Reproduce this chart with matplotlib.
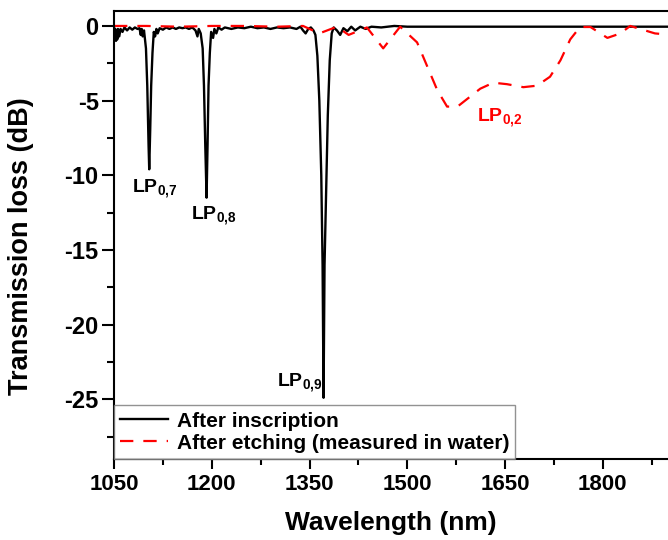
import matplotlib
matplotlib.use("Agg")
import matplotlib.pyplot as plt
from matplotlib.ticker import MultipleLocator

plt.rcParams['font.family'] = ['Liberation Sans', 'DejaVu Sans']
plt.rcParams['font.weight'] = 'bold'
plt.rcParams['axes.unicode_minus'] = False
plt.rcParams['mathtext.fontset'] = 'custom'
plt.rcParams['mathtext.rm'] = 'Liberation Sans'
plt.rcParams['mathtext.bf'] = 'Liberation Sans:bold'

# After inscription (black)
black_wl = [1050, 1051, 1052, 1053, 1054, 1055, 1056, 1058, 1060, 1063, 1066, 1070,
            1074, 1078, 1082, 1086, 1089, 1091, 1092.5, 1094, 1096, 1099, 1101, 1103,
            1104, 1105.5, 1107, 1109, 1111, 1113, 1115, 1117, 1120, 1125, 1130, 1135,
            1140, 1145, 1150, 1155, 1160, 1165, 1170, 1175, 1178, 1180, 1183, 1186,
            1188, 1190, 1192, 1193.5, 1195, 1197, 1199, 1202, 1204, 1207, 1210, 1215,
            1220, 1230, 1240, 1250, 1260, 1270, 1280, 1290, 1300, 1310, 1320, 1330,
            1336, 1340, 1344, 1348, 1352, 1356, 1359, 1362, 1365, 1368, 1370, 1371.5,
            1373, 1375, 1378, 1381, 1384, 1387, 1392, 1397, 1402, 1408, 1414, 1420,
            1428, 1436, 1445, 1460, 1480, 1500, 1550, 1600, 1650, 1700, 1750, 1800,
            1850, 1905]
black_db = [-0.1, -0.6, -0.2, -1.0, -0.3, -0.9, -0.2, -0.7, -0.2, -0.4, -0.1, -0.3,
            -0.1, -0.25, -0.1, -0.2, -0.15, -0.6, -0.2, -0.7, -0.3, -1.5, -4.0, -8.0,
            -9.6, -7.0, -4.0, -1.8, -0.4, -0.7, -0.2, -0.5, -0.15, -0.25, -0.1, -0.2,
            -0.1, -0.2, -0.1, -0.15, -0.1, -0.2, -0.1, -0.3, -0.7, -0.2, -0.5, -1.5,
            -4.0, -8.0, -11.5, -8.0, -4.0, -1.8, -0.4, -0.8, -0.2, -0.5, -0.1, -0.25,
            -0.1, -0.2, -0.1, -0.15, -0.05, -0.15, -0.1, -0.2, -0.1, -0.15, -0.1, -0.2,
            -0.05, -0.3, -0.5, -0.2, -0.1, -0.3, -0.6, -2.0, -5.0, -10.0, -16.0, -24.9,
            -16.0, -12.0, -6.0, -2.3, -0.5, -0.1, -0.3, -0.6, -0.15, -0.35, -0.05, -0.3,
            -0.05, -0.2, -0.05, -0.1, 0.0, -0.05, -0.05, -0.05, -0.05, -0.05, -0.05, -0.05,
            -0.05, -0.05]

# After etching, measured in water (red)
red_wl = [1050, 1100, 1150, 1200, 1250, 1300, 1340, 1365, 1392, 1410, 1438, 1463,
          1489, 1515, 1546, 1561, 1577, 1612, 1632, 1653, 1678, 1699, 1719, 1735,
          1750, 1765, 1781, 1807, 1827, 1842, 1880, 1905]
red_db = [0.0, 0.0, -0.05, 0.0, 0.0, -0.05, 0.0, -0.5, -0.05, -0.6, -0.1, -1.5,
          -0.05, -1.1, -4.3, -5.4, -5.4, -4.2, -3.8, -3.9, -4.1, -4.0, -3.4, -2.3,
          -0.9, -0.07, -0.07, -0.8, -0.5, 0.0, -0.5, -0.6]

mode_labels = [r'LP$_{\mathbf{0{,}7}}$', r'LP$_{\mathbf{0{,}8}}$',
               r'LP$_{\mathbf{0{,}9}}$', r'LP$_{\mathbf{0{,}2}}$']
mode_x = [1078, 1168, 1300, 1607]
mode_y = [-11.2, -13.0, -24.2, -6.45]
mode_colors = ['black', 'black', 'black', 'red']

fig = plt.figure(figsize=(6.68, 5.4), dpi=100)
ax = fig.add_axes([0.1707, 0.15, 0.8293, 0.8296])

ax.plot(black_wl, black_db, color='black', lw=1.7, label='After inscription')
ax.plot(red_wl, red_db, color='red', lw=1.6, dashes=(6, 4.5),
        label='After etching (measured in water)')

for lab, x, y, c in zip(mode_labels, mode_x, mode_y, mode_colors):
    ax.text(x, y, lab, color=c, fontsize=14, fontweight='bold', va='baseline', ha='left')

ax.set_xlim(1050, 1900)
ax.set_ylim(-29, 1)
ax.xaxis.set_major_locator(MultipleLocator(150))
ax.xaxis.set_minor_locator(MultipleLocator(75))
ax.yaxis.set_major_locator(MultipleLocator(5))
ax.yaxis.set_minor_locator(MultipleLocator(2.5))
ax.set_yticks([0, -5, -10, -15, -20, -25])
ax.tick_params(which='both', direction='out', width=1.5)
ax.tick_params(axis='x', which='major', length=7, pad=4, labelsize=16)
ax.tick_params(axis='x', which='minor', length=4)
ax.tick_params(axis='y', which='major', length=9, pad=2, labelsize=17)
ax.tick_params(axis='y', which='minor', length=5)
for lbl in ax.get_xticklabels() + ax.get_yticklabels():
    lbl.set_fontweight('bold')
for s in ['left', 'bottom', 'top']:
    ax.spines[s].set_linewidth(1.5)
ax.spines['right'].set_visible(False)

ax.set_xlabel('Wavelength (nm)', fontsize=19, fontweight='bold', labelpad=11)
ax.set_ylabel('Transmission loss (dB)', fontsize=19.5, fontweight='bold')
ax.yaxis.set_label_coords(-0.145, 0.475)

leg = ax.legend(loc='lower left', bbox_to_anchor=(0, 0), borderaxespad=0,
                fancybox=False, frameon=True, handlelength=2.3,
                handletextpad=0.4, labelspacing=0.15, borderpad=0.3,
                prop={'weight': 'bold', 'size': 15})
leg.get_frame().set_edgecolor('#777777')
leg.get_frame().set_linewidth(1.0)

fig.savefig('out.png', dpi=100)
